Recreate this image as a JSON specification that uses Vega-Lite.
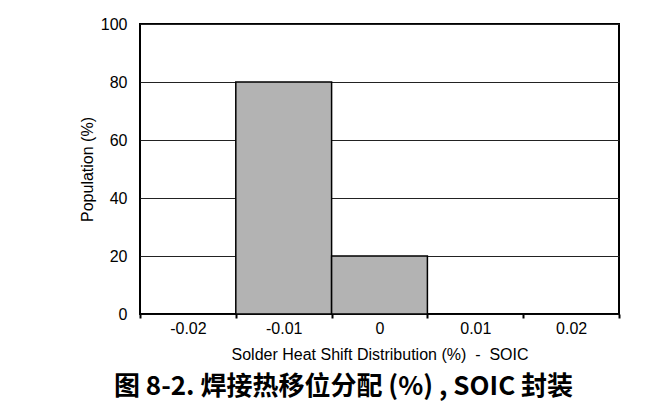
{
  "$schema": "https://vega.github.io/schema/vega-lite/v6.json",
  "autosize": "none",
  "width": 479,
  "height": 290,
  "padding": {"left": 140, "top": 24, "right": 44, "bottom": 102},
  "background": "white",
  "title": {
    "text": "图 8-2. 焊接热移位分配 (%) , SOIC 封装",
    "orient": "bottom",
    "anchor": "middle",
    "dx": -36,
    "offset": 12,
    "font": "Noto Sans CJK SC",
    "fontSize": 26,
    "fontWeight": "bold",
    "color": "#000"
  },
  "data": {
    "values": [
      {"bin": "-0.02", "population": 0},
      {"bin": "-0.01", "population": 80},
      {"bin": "0", "population": 20},
      {"bin": "0.01", "population": 0},
      {"bin": "0.02", "population": 0}
    ]
  },
  "mark": {"type": "bar", "fill": "#b3b3b3", "stroke": "#000", "strokeWidth": 1.5},
  "encoding": {
    "x": {
      "field": "bin",
      "type": "ordinal",
      "sort": null,
      "scale": {"paddingInner": 0, "paddingOuter": 0},
      "axis": {
        "title": "Solder Heat Shift Distribution (%)\u00a0\u00a0-\u00a0\u00a0SOIC",
        "labelAngle": 0,
        "tickBand": "extent",
        "grid": false,
        "domain": false,
        "ticks": true,
        "tickSize": 4,
        "tickWidth": 2,
        "tickColor": "#000",
        "labelPadding": 2,
        "titlePadding": 10
      }
    },
    "y": {
      "field": "population",
      "type": "quantitative",
      "scale": {"domain": [0, 100], "nice": false},
      "axis": {
        "title": "Population (%)",
        "values": [0, 20, 40, 60, 80, 100],
        "grid": true,
        "gridColor": "#222",
        "gridWidth": 1,
        "gridOpacity": 1,
        "ticks": false,
        "domain": false,
        "labelPadding": 13,
        "titlePadding": 5
      }
    }
  },
  "config": {
    "font": "Liberation Sans",
    "view": {"stroke": "#000", "strokeWidth": 2},
    "axis": {
      "labelFont": "Liberation Sans",
      "labelFontSize": 16,
      "labelColor": "#000",
      "titleFont": "Liberation Sans",
      "titleFontSize": 16,
      "titleFontWeight": "normal",
      "titleColor": "#000"
    }
  }
}
